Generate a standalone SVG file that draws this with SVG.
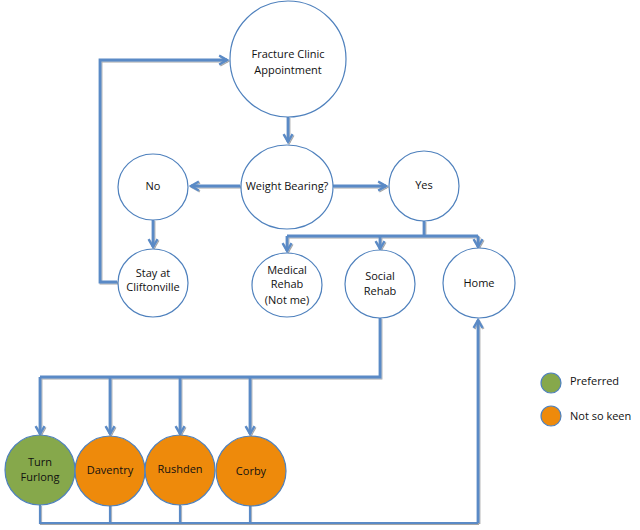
<svg xmlns="http://www.w3.org/2000/svg" width="640" height="530" viewBox="0 0 640 530">
<defs>
<marker id="arr" viewBox="0 0 10 10" refX="8" refY="5" markerWidth="4" markerHeight="4" orient="auto" markerUnits="strokeWidth">
<path d="M1,1 L8,5 L1,9" fill="none" stroke="#5a8ac6" stroke-width="2"/>
</marker>
<filter id="sh" x="-10%" y="-10%" width="120%" height="120%">
<feDropShadow dx="1" dy="1" stdDeviation="0.6" flood-color="#000" flood-opacity="0.35"/>
</filter>
</defs>
<style>
.n{fill:#fff;stroke:#4f81bd;stroke-width:1.2}
.g{fill:#86a84b;stroke:#4f81bd;stroke-width:1.2}
.o{fill:#ee8a0b;stroke:#4f81bd;stroke-width:1.2}
.c{fill:none;stroke:#5a8ac6;stroke-width:2.8;stroke-linejoin:miter}
.t{stroke-width:2.2}
.a{marker-end:url(#arr)}
text{font-family:"Open Sans","Liberation Sans",sans-serif;font-size:11px;fill:#111;text-anchor:middle}
.l{text-anchor:start}
</style>
<rect width="640" height="530" fill="#fff"/>
<g id="connectors" filter="url(#sh)">
<path class="c a" d="M288,117 V142"/>
<path class="c a" d="M240,186 H191"/>
<path class="c a" d="M333,186 H386"/>
<path class="c" d="M424,221 V236"/>
<path class="c" d="M287,236 H478"/>
<path class="c a" d="M287,236 V251"/>
<path class="c a" d="M380,236 V249"/>
<path class="c a" d="M478,236 V247"/>
<path class="c a" d="M153,220 V247"/>
<path class="c a" d="M117,282 H100 V60 H227"/>
<path class="c" d="M380,318 V377 H40"/>
<path class="c a" d="M40,377 V434"/>
<path class="c a" d="M110,377 V434"/>
<path class="c a" d="M180,377 V434"/>
<path class="c a" d="M250,377 V434"/>
<path class="c t" d="M40,505 V523 H478"/>
<path class="c t" d="M110,505 V523"/>
<path class="c t" d="M180,505 V523"/>
<path class="c t" d="M250,505 V523"/>
<path class="c a" d="M478,523 V320"/>
</g>
<g id="fracture"><circle class="n" cx="288" cy="59" r="58"/><text x="288" y="58">Fracture Clinic</text><text x="288" y="74">Appointment</text></g>
<g id="weight"><ellipse class="n" cx="287" cy="187" rx="46" ry="42"/><text x="287" y="190">Weight Bearing?</text></g>
<g id="no"><ellipse class="n" cx="153" cy="187" rx="35" ry="33"/><text x="153" y="190">No</text></g>
<g id="yes"><circle class="n" cx="424" cy="186" r="35"/><text x="424" y="189">Yes</text></g>
<g id="stay"><ellipse class="n" cx="153" cy="283" rx="35" ry="34"/><text x="153" y="277">Stay at</text><text x="153" y="291">Cliftonville</text></g>
<g id="medical"><ellipse class="n" cx="287" cy="285" rx="35" ry="32"/><text x="287" y="274">Medical</text><text x="287" y="288">Rehab</text><text x="287" y="304">(Not me)</text></g>
<g id="social"><ellipse class="n" cx="380" cy="284" rx="35" ry="34"/><text x="380" y="280">Social</text><text x="380" y="295">Rehab</text></g>
<g id="home"><ellipse class="n" cx="479" cy="283" rx="36" ry="35"/><text x="479" y="287">Home</text></g>
<g id="turnfurlong"><circle class="g" cx="40" cy="470" r="35"/><text x="40" y="466">Turn</text><text x="40" y="481">Furlong</text></g>
<g id="daventry"><circle class="o" cx="110" cy="471" r="35"/><text x="110" y="474">Daventry</text></g>
<g id="rushden"><circle class="o" cx="180" cy="470" r="35"/><text x="180" y="473">Rushden</text></g>
<g id="corby"><circle class="o" cx="251" cy="471" r="35"/><text x="251" y="475">Corby</text></g>
<g id="legend">
<circle class="g" cx="551" cy="383" r="10"/><text class="l" x="570" y="385">Preferred</text>
<circle class="o" cx="551" cy="416" r="10"/><text class="l" x="570" y="420">Not so keen</text>
</g>
</svg>
